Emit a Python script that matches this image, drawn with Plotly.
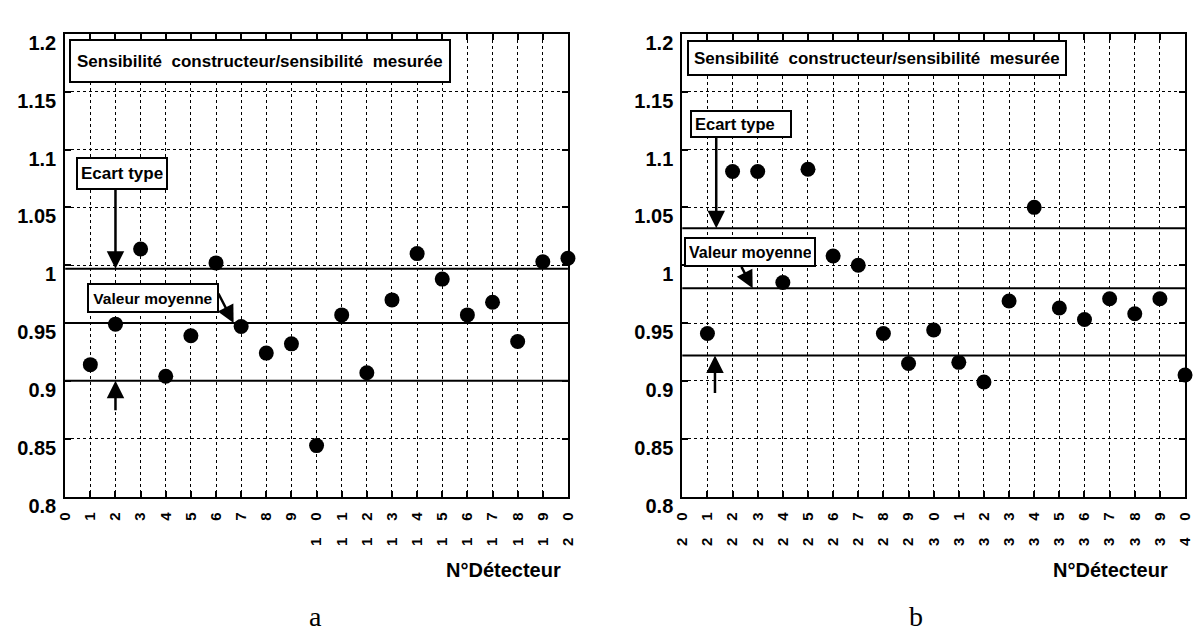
import plotly.graph_objects as go

# ---------------- data ----------------
det_a = list(range(1, 21))
sens_a = [0.914, 0.949, 1.014, 0.904, 0.939, 1.002, 0.947, 0.924, 0.932, 0.844,
          0.957, 0.907, 0.970, 1.010, 0.988, 0.957, 0.968, 0.934, 1.003, 1.006]
lines_a = [0.997, 0.950, 0.900]   # moyenne + écart type, moyenne, moyenne - écart type

det_b = list(range(21, 41))
sens_b = [0.941, 1.081, 1.081, 0.985, 1.083, 1.008, 1.000, 0.941, 0.915, 0.944,
          0.916, 0.899, 0.969, 1.050, 0.963, 0.953, 0.971, 0.958, 0.971, 0.905]
lines_b = [1.032, 0.980, 0.922]

xticks_a = list(range(0, 21))
xticks_b = list(range(20, 41))
yticks = [0.8, 0.85, 0.9, 0.95, 1.0, 1.05, 1.1, 1.15, 1.2]
ylabels = ["0.8", "0.85", "0.9", "0.95", "1", "1.05", "1.1", "1.15", "1.2"]

title_txt = "Sensibilité  constructeur/sensibilité  mesurée"
ecart_txt = "Ecart type"
moy_txt = "Valeur moyenne"
xlab_txt = "N°Détecteur"

# ---------------- style ----------------
W, H = 1196, 644
FONT = "Liberation Sans Narrow, Arial Narrow, Liberation Sans, Arial, sans-serif"
SP = "\u2007\u2007"


def tick_label(n):
    s = str(n)
    return s if len(s) == 1 else SP.join(s)


def px_x(p):
    return p / W


def px_y(p):
    return 1 - p / H


dom_y = [px_y(512), px_y(33)]
dom_xa = [px_x(57), px_x(567)]
dom_xb = [px_x(683), px_x(1193)]

fig = go.Figure()
fig.add_trace(go.Scatter(x=det_a, y=sens_a, mode="markers", xaxis="x", yaxis="y",
                         marker=dict(color="black", size=15), cliponaxis=False,
                         showlegend=False))
fig.add_trace(go.Scatter(x=det_b, y=sens_b, mode="markers", xaxis="x2", yaxis="y2",
                         marker=dict(color="black", size=15), cliponaxis=False,
                         showlegend=False))

axis_common = dict(showline=True, linecolor="black", linewidth=2, mirror="ticks",
                   ticks="inside", ticklen=6, tickwidth=2, tickcolor="black",
                   showgrid=True, gridcolor="black", gridwidth=1, griddash="dot",
                   zeroline=False, fixedrange=True)
xfont = dict(family=FONT, size=15, color="black", weight="bold")
yfont = dict(family=FONT, size=20, color="black", weight="bold")

fig.update_layout(
    width=W, height=H, margin=dict(l=0, r=0, t=0, b=0),
    paper_bgcolor="white", plot_bgcolor="white",
    xaxis=dict(domain=dom_xa, range=[0, 20], tickvals=xticks_a,
               ticktext=[tick_label(v) for v in xticks_a], tickangle=-90,
               tickfont=xfont, ticklabelstandoff=8, anchor="y", **axis_common),
    yaxis=dict(domain=dom_y, range=[0.8, 1.2], tickvals=yticks, ticktext=ylabels,
               tickfont=yfont, ticklabelshift=9, ticklabelstandoff=3, anchor="x", **axis_common),
    xaxis2=dict(domain=dom_xb, range=[20, 40], tickvals=xticks_b,
                ticktext=[tick_label(v) for v in xticks_b], tickangle=-90,
                tickfont=xfont, ticklabelstandoff=8, anchor="y2", **axis_common),
    yaxis2=dict(domain=dom_y, range=[0.8, 1.2], tickvals=yticks, ticktext=ylabels,
                tickfont=yfont, ticklabelshift=9, ticklabelstandoff=3, anchor="x2", **axis_common),
)

shapes = []
for v in lines_a:
    shapes.append(dict(type="line", xref="x domain", yref="y", x0=0, x1=1, y0=v, y1=v,
                       line=dict(color="black", width=2)))
for v in lines_b:
    shapes.append(dict(type="line", xref="x2 domain", yref="y2", x0=0, x1=1, y0=v, y1=v,
                       line=dict(color="black", width=2)))
fig.update_layout(shapes=shapes)

ann = []


def box(text, x_left, y_top, w, h, size, align="center", pad=3):
    d = dict(text=text, xref="paper", yref="paper", x=px_x(x_left), y=px_y(y_top),
             xanchor="left", yanchor="top", showarrow=False,
             font=dict(family=FONT, size=size, color="black", weight="bold"),
             height=h - 2 * pad - 4, align=align, valign="middle",
             bgcolor="white", bordercolor="black", borderwidth=2, borderpad=pad)
    if w is not None:
        d["width"] = w - 2 * pad - 4
    ann.append(d)


def arrow(xref, yref, x, y, ax, ay):
    ann.append(dict(text="", xref=xref, yref=yref, x=x, y=y, ax=ax, ay=ay,
                    showarrow=True, arrowhead=2, arrowsize=1.4, arrowwidth=2.5,
                    arrowcolor="black", standoff=0))


# chart a
box(title_txt, 61, 38, None, 44, 17, pad=6)
box(ecart_txt, 68, 160, 92, 33, 17)
box(moy_txt, 79, 291, 132, 30, 15.5)
arrow("x", "y", 2, lines_a[0], 0, -82)
arrow("x", "y", 6.7, lines_a[1], -16, -31)
arrow("x", "y", 2, lines_a[2], 0, 31)
# chart b
box(title_txt, 688, 39, None, 36, 17, pad=5)
box(ecart_txt, 691, 112, 102, 28, 16.5, align="left")
box(moy_txt, 685, 243, 132, 30, 16, align="left")
arrow("x2", "y2", 21.35, lines_b[0], 0, -93)
arrow("x2", "y2", 22.8, lines_b[1], -12, -23)
arrow("x2", "y2", 21.3, lines_b[2], 0, 39)

for xr in (562, 1178):
    ann.append(dict(text=xlab_txt, xref="paper", yref="paper", x=px_x(xr), y=px_y(588),
                    xanchor="right", yanchor="middle", showarrow=False,
                    font=dict(family=FONT, size=20, color="black", weight="bold")))
for lab, xc in (("a", 311), ("b", 920)):
    ann.append(dict(text=lab, xref="paper", yref="paper", x=px_x(xc), y=px_y(636),
                    xanchor="center", yanchor="middle", showarrow=False,
                    font=dict(family="Liberation Serif, Times New Roman, serif", size=28, color="black")))

fig.update_layout(annotations=ann)
fig.write_html("out.html")
